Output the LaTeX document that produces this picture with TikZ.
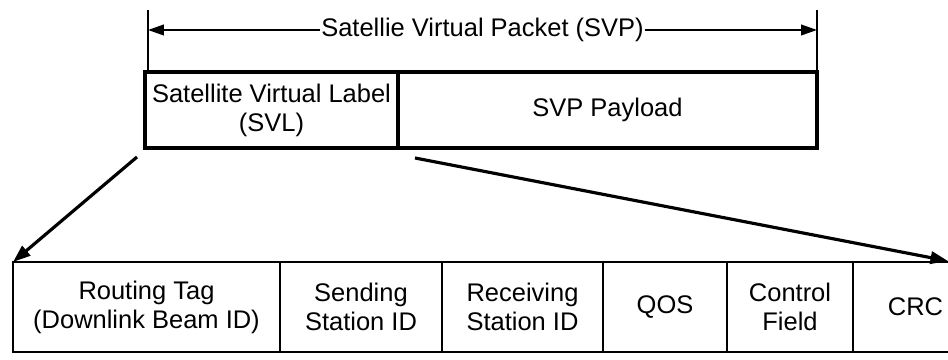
\documentclass[tikz,border=0pt]{standalone}
\usepackage{fontspec}
\setmainfont{Liberation Sans}
\usetikzlibrary{arrows.meta,positioning,calc}
\tikzset{
  field/.style={rectangle,draw=black,line width=1.4pt,outer sep=0pt,minimum height=1.8cm,inner sep=1pt,
    align=center,font=\fontsize{14.5}{16.5}\selectfont},
  hdr/.style={field,minimum height=1.52cm,line width=1.8pt},
  fanout/.style={-{Triangle[length=10pt,width=7pt]},line width=1.8pt},
  span/.style={{Triangle[length=9pt,width=6pt]}-{Triangle[length=9pt,width=6pt]},line width=1.1pt},
  tick/.style={line width=1.3pt},
}
\begin{document}
\begin{tikzpicture}
\useasboundingbox (0,0) rectangle (18.96,7.2);
% header packet
\node[hdr,minimum width=5.06cm,anchor=north west] (svl) at (2.9,5.76) {Satellite Virtual Label\\(SVL)};
\node[hdr,minimum width=8.38cm,anchor=north west] (pay) at (svl.north east) {SVP Payload};

% dimension line over the packet
\coordinate (tickL) at ($(svl.north west)+(0.06,1.24)$);
\coordinate (tickR) at ($(pay.north east)+(0,1.24)$);
\coordinate (spanL) at ($(svl.north west)+(0.06,0.84)$);
\coordinate (spanR) at ($(pay.north east)+(0,0.84)$);
\draw[tick] ($(svl.north west)+(0.06,0)$) -- (tickL);
\draw[tick] (pay.north east) -- (tickR);
\draw[span] (spanL) -- (spanR)
  node[midway,fill=white,inner sep=1pt,font=\fontsize{14.5}{16.5}\selectfont] {Satellie Virtual Packet (SVP)};

% label fields
\node[field,minimum width=5.34cm,anchor=north west] (tag) at (0.26,1.96) {Routing Tag\\(Downlink Beam ID)};
\node[field,minimum width=3.24cm,anchor=north west] (snd) at (tag.north east) {Sending\\Station ID};
\node[field,minimum width=3.22cm,anchor=north west] (rcv) at (snd.north east) {Receiving\\Station ID};
\node[field,minimum width=2.48cm,anchor=north west] (qos) at (rcv.north east) {QOS};
\node[field,minimum width=2.52cm,anchor=north west] (ctl) at (qos.north east) {Control\\Field};
\node[field,draw=none,minimum width=2.5cm,anchor=north west] (crc) at (ctl.north east) {CRC};
\draw[line width=1.4pt] (crc.north west) -- (crc.north east) (crc.south west) -- (crc.south east);

% expansion of the SVL
\coordinate (fromL) at ($(svl.south west)+(-0.16,-0.18)$);
\coordinate (fromR) at ($(svl.south east)+(0.34,-0.2)$);
\coordinate (toR) at (18.96,1.98);
\draw[fanout] (fromL) -- (tag.north west);
\draw[fanout] (fromR) -- (toR);
\end{tikzpicture}
\end{document}
